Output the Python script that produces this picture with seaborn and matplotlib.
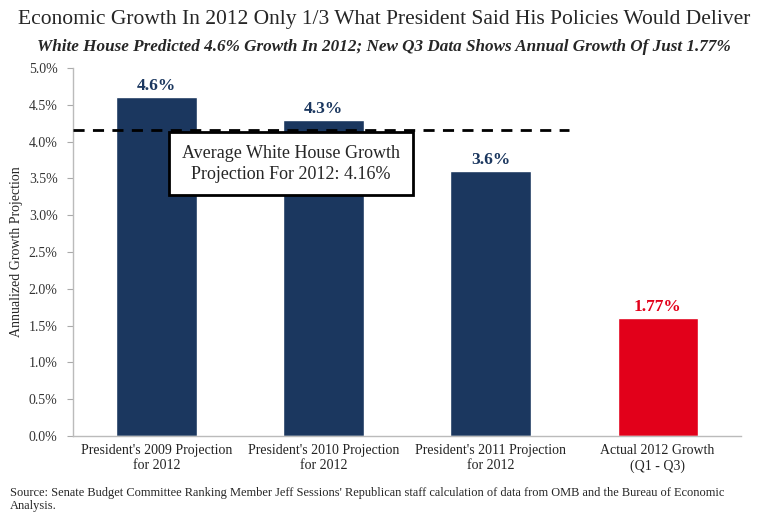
import matplotlib
matplotlib.use("Agg")
import matplotlib.pyplot as plt
import seaborn as sns
import pandas as pd

# chart data
categories = ["President's 2009 Projection\nfor 2012",
              "President's 2010 Projection\nfor 2012",
              "President's 2011 Projection\nfor 2012",
              "Actual 2012 Growth\n(Q1 - Q3)"]
values = [4.6, 4.3, 3.6, 1.6]
bar_labels = ["4.6%", "4.3%", "3.6%", "1.77%"]
bar_colors = ["#1B375F", "#1B375F", "#1B375F", "#E2001A"]
average_projection = 4.16
y_ticks = [0.0, 0.5, 1.0, 1.5, 2.0, 2.5, 3.0, 3.5, 4.0, 4.5, 5.0]

sns.set_style("white")
plt.rcParams['font.family'] = ['Liberation Serif', 'DejaVu Serif']

df = pd.DataFrame({"cat": categories, "val": values})

fig = plt.figure(figsize=(7.68, 5.23), dpi=100)
ax = fig.add_axes([0.095, 0.1663, 0.870, 0.7037])

sns.barplot(data=df, x="cat", y="val", hue="cat", palette=bar_colors,
            legend=False, width=0.48, ax=ax, saturation=1)

# value labels over bars
for i, (v, lab) in enumerate(zip(values, bar_labels)):
    ax.text(i, v + 0.04, lab, ha='center', va='bottom', fontsize=12.5,
            fontweight='bold', color=bar_colors[i])

# average line and box
ax.plot([-0.5, 2.47], [average_projection, average_projection], color='black',
        linestyle=(0, (4, 3)), linewidth=2, clip_on=False, zorder=3)
ax.text(0.805, 3.70, "Average White House Growth\nProjection For 2012: 4.16%",
        ha='center', va='center', fontsize=13, linespacing=1.3, zorder=4,
        bbox=dict(boxstyle='square,pad=0.7', facecolor='white',
                  edgecolor='black', linewidth=2))

ax.set_ylim(0, 5)
ax.set_xlim(-0.5, 3.5)
ax.set_yticks(y_ticks)
ax.set_yticklabels([f"{t:.1f}%" for t in y_ticks], fontsize=10, color='#333333')
ax.set_xticks(range(len(categories)))
ax.set_xticklabels(categories, fontsize=10, color='#222222')
ax.set_xticks([-0.5, 0.5, 1.5, 2.5, 3.5], minor=True)
ax.tick_params(axis='x', which='major', length=0, pad=6)
ax.tick_params(axis='x', which='minor', length=4, color='#AAAAAA', direction='out')
ax.tick_params(axis='y', length=4, color='#AAAAAA', direction='out', left=True, pad=7)
ax.set_xlabel("")
ax.set_ylabel("Annualized Growth Projection", fontsize=10)
ax.yaxis.set_label_coords(-0.075, 0.5)

for s in ['top', 'right']:
    ax.spines[s].set_visible(False)
for s in ['left', 'bottom']:
    ax.spines[s].set_color('#BBBBBB')
    ax.spines[s].set_linewidth(1)

fig.text(0.5, 0.962, "Economic Growth In 2012 Only 1/3 What President Said His Policies Would Deliver",
         ha='center', va='center', fontsize=15.5)
fig.text(0.5, 0.910, "White House Predicted 4.6% Growth In 2012; New Q3 Data Shows Annual Growth Of Just 1.77%",
         ha='center', va='center', fontsize=12.3, fontweight='bold', fontstyle='italic')
fig.text(0.013, 0.069, "Source: Senate Budget Committee Ranking Member Jeff Sessions' Republican staff calculation of data from OMB and the Bureau of Economic\nAnalysis.",
         ha='left', va='top', fontsize=8.9, linespacing=1.15)

fig.savefig("out.png", dpi=100)
